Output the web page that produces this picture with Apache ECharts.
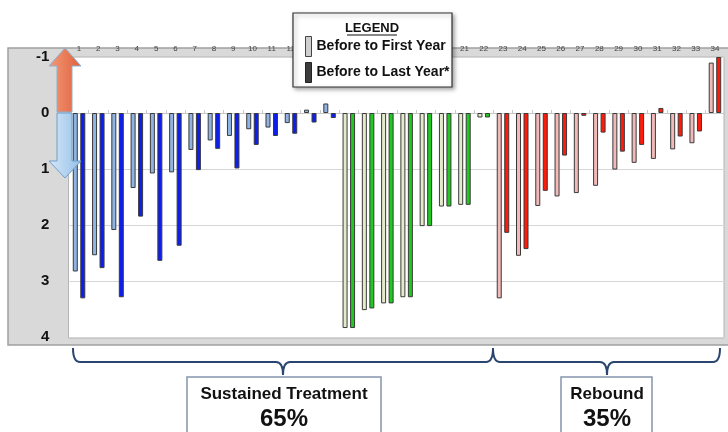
<!DOCTYPE html>
<html>
<head>
<meta charset="utf-8">
<script src="https://cdn.jsdelivr.net/npm/echarts@6/dist/echarts.min.js"></script>
<style>
  html, body { margin: 0; padding: 0; background: #fff; }
  #chart { width: 728px; height: 432px; }
</style>
</head>
<body>
<div id="chart"></div>
<script>
// subjects 1..34
var categories = [];
for (var i = 1; i <= 34; i++) categories.push(String(i));

// decrease (positive = down)
var firstYear = [2.83, 2.54, 2.09, 1.34, 1.08, 1.06, 0.66, 0.49, 0.41, 0.29, 0.26, 0.18, -0.06, -0.17,
                 3.84, 3.52, 3.40, 3.29, 2.02, 1.67, 1.64, 0.08,
                 3.31, 2.55, 1.66, 1.49, 1.43, 1.30, 1.01, 0.89, 0.82, 0.65, 0.54, -0.90];
var lastYear  = [3.31, 2.77, 3.29, 1.85, 2.64, 2.37, 1.02, 0.64, 0.99, 0.57, 0.41, 0.37, 0.17, 0.09,
                 3.84, 3.49, 3.40, 3.29, 2.02, 1.67, 1.64, 0.08,
                 2.14, 2.43, 1.39, 0.76, 0.05, 0.35, 0.69, 0.57, -0.09, 0.42, 0.33, -1.00];
// b = sustained (blue), g = sustained (green), r = rebound
var groupOf = ['b','b','b','b','b','b','b','b','b','b','b','b','b','b',
               'g','g','g','g','g','g','g','g',
               'r','r','r','r','r','r','r','r','r','r','r','r'];
var yTicks = [-1, 0, 1, 2, 3, 4];

var lightColor = { b: '#8fb4e3', g: '#e4ebcb', r: '#f2b9b9' };
var darkColor  = { b: '#0c1ff0', g: '#22c822', r: '#ff1a0a' };

// curly bracket under a group: ends at x0/x1, cusp at xm
function bracket(x0, xm, x1) {
  var top = 348, mid = 362, tip = 375, r = 7;
  var st = { fill: 'none', stroke: '#2a4670', lineWidth: 2 };
  return [
    { type: 'bezierCurve', z: 20, shape: { x1: x0, y1: top, cpx1: x0, cpy1: mid, x2: x0 + r, y2: mid }, style: st },
    { type: 'line', z: 20, shape: { x1: x0 + r, y1: mid, x2: xm - r, y2: mid }, style: st },
    { type: 'bezierCurve', z: 20, shape: { x1: xm - r, y1: mid, cpx1: xm, cpy1: mid, x2: xm, y2: tip }, style: st },
    { type: 'bezierCurve', z: 20, shape: { x1: xm, y1: tip, cpx1: xm, cpy1: mid, x2: xm + r, y2: mid }, style: st },
    { type: 'line', z: 20, shape: { x1: xm + r, y1: mid, x2: x1 - r, y2: mid }, style: st },
    { type: 'bezierCurve', z: 20, shape: { x1: x1 - r, y1: mid, cpx1: x1, cpy1: mid, x2: x1, y2: top }, style: st }
  ];
}

var myChart = echarts.init(document.getElementById('chart'));

var graphics = [
  // gray outer frame and white plot
  { type: 'rect', z: -10, shape: { x: 8, y: 48, width: 724, height: 297 },
    style: { fill: '#d9d9d9', stroke: '#a0a0a0', lineWidth: 1.5 } },
  { type: 'rect', z: -9, shape: { x: 68.5, y: 57, width: 655.5, height: 281 },
    style: { fill: '#ffffff', stroke: '#b5b5b5', lineWidth: 1 } },
  // arrows
  { type: 'polygon', z: 50,
    shape: { points: [[65, 48], [81, 66], [72, 66], [72, 112], [57, 112], [57, 66], [49, 66]] },
    style: { fill: new echarts.graphic.LinearGradient(0, 0, 1, 0, [
      { offset: 0, color: '#f39a78' }, { offset: 1, color: '#e0603c' }]),
      stroke: '#8fb0cc', lineWidth: 1 } },
  { type: 'polygon', z: 50,
    shape: { points: [[57, 113], [72, 113], [72, 161], [81, 161], [65, 178], [49, 161], [57, 161]] },
    style: { fill: new echarts.graphic.LinearGradient(0, 0, 1, 0, [
      { offset: 0, color: '#d6e8f8' }, { offset: 1, color: '#94bfe6' }]),
      stroke: '#6f9fcb', lineWidth: 1 } },
  // legend box
  { type: 'rect', z: 110, shape: { x: 293, y: 13, width: 159, height: 74 },
    style: { fill: '#fff', stroke: '#333', lineWidth: 1.2, shadowBlur: 4, shadowOffsetX: 2, shadowOffsetY: 2, shadowColor: 'rgba(0,0,0,0.35)' } },
  { type: 'text', z: 111, style: { text: 'LEGEND', x: 372, y: 28, align: 'center', verticalAlign: 'middle',
    font: 'bold 13px "Liberation Sans"', fill: '#111' } },
  { type: 'line', z: 111, shape: { x1: 347, y1: 35, x2: 397, y2: 35 }, style: { stroke: '#111', lineWidth: 1 } },
  // group boxes
  { type: 'rect', z: 20, shape: { x: 187, y: 377, width: 194, height: 70 },
    style: { fill: '#fff', stroke: '#8595ad', lineWidth: 1.5 } },
  { type: 'text', z: 21, style: { text: 'Sustained Treatment', x: 284, y: 394, align: 'center', verticalAlign: 'middle',
    font: 'bold 17px "Liberation Sans"', fill: '#111' } },
  { type: 'text', z: 21, style: { text: '65%', x: 284, y: 419, align: 'center', verticalAlign: 'middle',
    font: 'bold 24px "Liberation Sans"', fill: '#111' } },
  { type: 'rect', z: 20, shape: { x: 561, y: 377, width: 91, height: 70 },
    style: { fill: '#fff', stroke: '#8595ad', lineWidth: 1.5 } },
  { type: 'text', z: 21, style: { text: 'Rebound', x: 607, y: 394, align: 'center', verticalAlign: 'middle',
    font: 'bold 17px "Liberation Sans"', fill: '#111' } },
  { type: 'text', z: 21, style: { text: '35%', x: 607, y: 419, align: 'center', verticalAlign: 'middle',
    font: 'bold 24px "Liberation Sans"', fill: '#111' } }
].concat(bracket(73, 283, 493), bracket(493, 607, 720));

var option = {
  animation: false,
  grid: { left: 69.4, right: 3.4, top: 57, bottom: 95, show: false },
  xAxis: {
    type: 'category',
    data: categories,
    position: 'top',
    axisLine: { onZero: true, lineStyle: { color: '#c8c8c8', width: 1 } },
    axisTick: { show: true, length: 3, lineStyle: { color: '#c8c8c8' } },
    axisLabel: { fontSize: 8, color: '#444', margin: 4, interval: 0, fontFamily: 'Liberation Sans' }
  },
  yAxis: {
    type: 'value',
    inverse: true,
    min: yTicks[0],
    max: yTicks[yTicks.length - 1],
    interval: 1,
    axisLine: { show: false },
    axisTick: { show: false },
    axisLabel: { fontSize: 15, fontWeight: 'bold', color: '#111', margin: 20, fontFamily: 'Liberation Sans' },
    splitLine: { lineStyle: { color: '#d6d6d6' } }
  },
  legend: {
    orient: 'vertical',
    left: 305,
    top: 36,
    z: 120,
    itemWidth: 6,
    itemHeight: 20,
    itemGap: 5,
    padding: 0,
    selectedMode: false,
    textStyle: { fontSize: 14, fontWeight: 'bold', color: '#111', fontFamily: 'Liberation Sans' },
    data: [
      { name: 'Before to First Year', icon: 'rect', itemStyle: { color: '#cfcfcf', borderColor: '#444', borderWidth: 1 } },
      { name: 'Before to Last Year*', icon: 'rect', itemStyle: { color: '#3c3c3c', borderColor: '#222', borderWidth: 1 } }
    ]
  },
  graphic: graphics,
  series: [
    {
      name: 'Before to First Year',
      type: 'bar',
      data: firstYear,
      barWidth: 5,
      barGap: '50%',
      itemStyle: {
        color: function (p) { return lightColor[groupOf[p.dataIndex]]; },
        borderColor: '#3a3a3a',
        borderWidth: 1
      }
    },
    {
      name: 'Before to Last Year*',
      type: 'bar',
      data: lastYear,
      barWidth: 5,
      barGap: '50%',
      itemStyle: {
        color: function (p) { return darkColor[groupOf[p.dataIndex]]; },
        borderColor: '#3a3a3a',
        borderWidth: 1
      }
    }
  ]
};

myChart.setOption(option);
</script>
</body>
</html>
